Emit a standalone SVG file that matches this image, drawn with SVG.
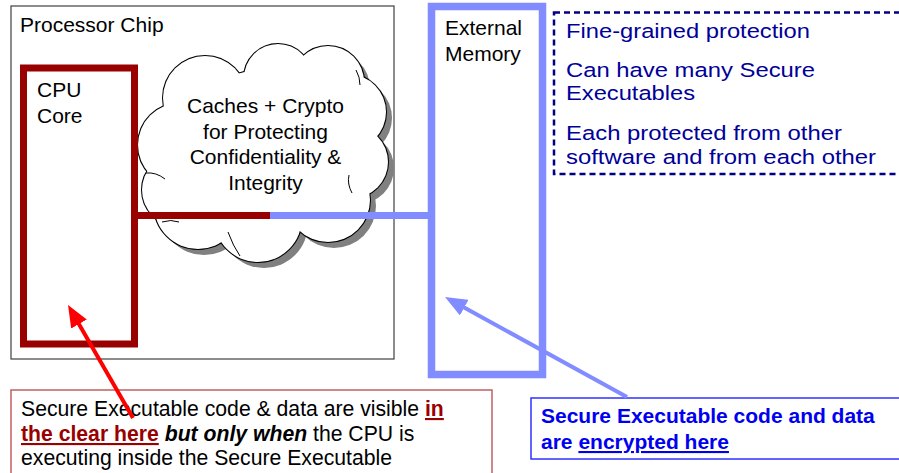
<svg xmlns="http://www.w3.org/2000/svg" width="899" height="473" viewBox="0 0 899 473">
<style>
  .t { font-family: "Liberation Sans", Arial, sans-serif; font-size: 21px; fill: #000; }
  .c { text-anchor: middle; }
  .blue { font-family: "Liberation Sans", Arial, sans-serif; font-size: 20.5px; fill: #000099; }
  .note { font-family: "Liberation Sans", Arial, sans-serif; font-size: 21.2px; fill: #000; }
  .enc { font-family: "Liberation Sans", Arial, sans-serif; font-size: 21px; font-weight: bold; fill: #0000F0; }
  .b { font-weight: bold; }
  .bi { font-weight: bold; font-style: italic; }
  .u { text-decoration: underline; }
  .dr { fill: #990000; }
  .seam { fill: none; stroke: #000; stroke-width: 1; }
</style>
<defs>
  <g id="cloudShape">
    <circle cx="205" cy="98" r="42"/>
    <circle cx="278" cy="78" r="34"/>
    <circle cx="328" cy="82" r="36"/>
    <circle cx="348" cy="112" r="38"/>
    <circle cx="352" cy="162" r="36"/>
    <circle cx="328" cy="200" r="42"/>
    <circle cx="258" cy="218" r="44"/>
    <circle cx="198" cy="205" r="44"/>
    <circle cx="178" cy="190" r="36"/>
    <circle cx="180" cy="145" r="42"/>
    <circle cx="262" cy="150" r="80"/>
  </g>
  <marker id="headRed" viewBox="0 0 22 18" refX="10" refY="9" markerWidth="22" markerHeight="18" markerUnits="userSpaceOnUse" orient="auto">
    <path d="M0,0 L22,9 L0,18 z" fill="#FF0000"/>
  </marker>
  <marker id="headBlue" viewBox="0 0 22 18" refX="10" refY="9" markerWidth="22" markerHeight="18" markerUnits="userSpaceOnUse" orient="auto">
    <path d="M0,0 L22,9 L0,18 z" fill="#808CFF"/>
  </marker>
</defs>
<rect width="899" height="473" fill="#fff"/>

<g id="processor-chip">
  <rect x="11" y="6" width="383" height="353" fill="#fff" stroke="#404040" stroke-width="1.2"/>
  <text class="t" x="20" y="32">Processor Chip</text>
</g>

<g id="cloud">
  <use href="#cloudShape" transform="translate(6,6)" fill="#808080"/>
  <use href="#cloudShape" fill="#fff" stroke="#000" stroke-width="2"/>
  <use href="#cloudShape" fill="#fff"/>
  <path class="seam" d="M146,173 Q156,172 165,179"/>
  <path class="seam" d="M162,222 Q171,219 179,222"/>
  <path class="seam" d="M228,232 Q233,246 240,256"/>
  <path class="seam" d="M352,193 Q347,184 349,175"/>
  <path class="seam" d="M356,70 Q360,77 360,85"/>
  <text class="t c" x="265.5" y="113">Caches + Crypto</text>
  <text class="t c" x="265.5" y="138.5">for Protecting</text>
  <text class="t c" x="265.5" y="164">Confidentiality &amp;</text>
  <text class="t c" x="265.5" y="190">Integrity</text>
</g>

<g id="cpu-core">
  <rect x="23.5" y="68" width="111" height="276" fill="none" stroke="#990000" stroke-width="7"/>
  <text class="t" x="37" y="97">CPU</text>
  <text class="t" x="37" y="123">Core</text>
</g>

<g id="external-memory">
  <rect x="431.5" y="6.5" width="111" height="368" fill="none" stroke="#808CFF" stroke-width="7.5"/>
  <text class="t" x="445" y="35">External</text>
  <text class="t" x="445" y="61">Memory</text>
</g>

<g id="protection-notes">
  <rect x="554" y="12.5" width="360" height="161.5" fill="none" stroke="#000080" stroke-width="2.5" stroke-dasharray="6,4"/>
  <text class="blue" x="566" y="38" textLength="244" lengthAdjust="spacingAndGlyphs">Fine-grained protection</text>
  <text class="blue" x="566" y="77" textLength="249" lengthAdjust="spacingAndGlyphs">Can have many Secure</text>
  <text class="blue" x="566" y="100" textLength="129" lengthAdjust="spacingAndGlyphs">Executables</text>
  <text class="blue" x="566" y="140" textLength="276" lengthAdjust="spacingAndGlyphs">Each protected from other</text>
  <text class="blue" x="566" y="164" textLength="310" lengthAdjust="spacingAndGlyphs">software and from each other</text>
</g>

<g id="note-clear">
  <rect x="11" y="390" width="481" height="100" fill="#fff" stroke="#C06060" stroke-width="1.5"/>
  <text class="note" x="21" y="416">Secure Executable code &amp; data are visible <tspan class="b u dr">in</tspan></text>
  <text class="note" x="21" y="441"><tspan class="b u dr">the clear here</tspan> <tspan class="bi">but only when</tspan> the CPU is</text>
  <text class="note" x="21" y="465">executing inside the Secure Executable</text>
</g>

<g id="note-encrypted">
  <rect x="531" y="398" width="380" height="61" fill="#fff" stroke="#3030FF" stroke-width="1.5"/>
  <text class="enc" x="541" y="423">Secure Executable code and data</text>
  <text class="enc" x="541" y="449">are <tspan class="u">encrypted here</tspan></text>
</g>

<g id="connectors">
  <line x1="134.5" y1="215.5" x2="270" y2="215.5" stroke="#990000" stroke-width="7"/>
  <line x1="270" y1="215.5" x2="431.5" y2="215.5" stroke="#808CFF" stroke-width="7"/>
  <line x1="133" y1="418" x2="74" y2="315.4" stroke="#FF0000" stroke-width="4" marker-end="url(#headRed)"/>
  <line x1="627" y1="397" x2="455.5" y2="302.8" stroke="#808CFF" stroke-width="4" marker-end="url(#headBlue)"/>
</g>
</svg>
